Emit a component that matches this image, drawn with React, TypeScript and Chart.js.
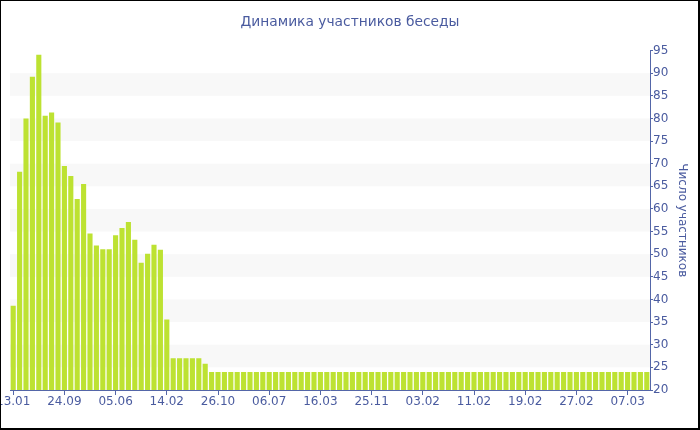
import { useEffect, useRef } from "react";
import { Chart, registerables } from "chart.js";

Chart.register(...registerables);

const TITLE = "Динамика участников беседы";
const Y_TITLE = "Число участников";

// one x label every LABEL_EVERY categories
const TICK_LABELS = [
  "13.01", "24.09", "05.06", "14.02", "26.10", "06.07", "16.03",
  "25.11", "03.02", "11.02", "19.02", "27.02", "07.03",
];
const LABEL_EVERY = 8;

const VALUES = [
  38.6, 68.2, 80.0, 89.2, 94.1, 80.6, 81.3, 79.1, 69.5, 67.3,
  62.2, 65.5, 54.6, 51.9, 51.1, 51.1, 54.2, 55.8, 57.1, 53.2,
  48.1, 50.1, 52.1, 51.0, 35.6, 27, 27, 27, 27, 27,
  25.8, 24, 24, 24, 24, 24, 24, 24, 24, 24,
  24, 24, 24, 24, 24, 24, 24, 24, 24, 24,
  24, 24, 24, 24, 24, 24, 24, 24, 24, 24,
  24, 24, 24, 24, 24, 24, 24, 24, 24, 24,
  24, 24, 24, 24, 24, 24, 24, 24, 24, 24,
  24, 24, 24, 24, 24, 24, 24, 24, 24, 24,
  24, 24, 24, 24, 24, 24, 24, 24, 24, 24,
];

const Y_MIN = 20;
const Y_MAX = 95;
const Y_STEP = 2.5;
const Y_LABEL_STEP = 5;
const BANDS = [
  [25, 30], [35, 40], [45, 50], [55, 60], [65, 70], [75, 80], [85, 90],
];

const TEXT = "#4a5b9f";
const AXIS = "#5466a8";
const BAR = "#bde232";
const BAND = "#f8f8f8";
const FONT = "'DejaVu Sans', Verdana, sans-serif";

const CATEGORIES = VALUES.map((_, i) =>
  i % LABEL_EVERY === 0 ? TICK_LABELS[i / LABEL_EVERY] ?? "" : ""
);

const bandPlugin = {
  id: "bands",
  beforeDraw(chart: any) {
    const { ctx, chartArea, scales } = chart;
    const y = scales.y;
    ctx.save();
    ctx.fillStyle = BAND;
    for (const [lo, hi] of BANDS) {
      const top = y.getPixelForValue(hi);
      const bot = y.getPixelForValue(lo);
      ctx.fillRect(chartArea.left, top, chartArea.right - chartArea.left, bot - top);
    }
    ctx.restore();
  },
};

const borderPlugin = {
  id: "frame",
  afterDraw(chart: any) {
    const { ctx, width, height } = chart;
    ctx.save();
    ctx.fillStyle = "#000";
    ctx.fillRect(0, 0, width, 1);
    ctx.fillRect(0, 0, 1, height);
    ctx.fillRect(width - 2, 0, 2, height);
    ctx.fillRect(0, height - 2, width, 2);
    ctx.restore();
  },
};

export default function App() {
  const ref = useRef<HTMLCanvasElement | null>(null);

  useEffect(() => {
    document.body.style.margin = "0";
    if (!ref.current) return;
    const chart = new Chart(ref.current, {
      type: "bar",
      data: {
        labels: CATEGORIES,
        datasets: [
          {
            data: VALUES,
            backgroundColor: BAR,
            borderWidth: 0,
            barPercentage: 0.8,
            categoryPercentage: 1,
          },
        ],
      },
      options: {
        responsive: false,
        animation: false,
        events: [],
        layout: { padding: { left: 0, right: 0, top: 0, bottom: 0 } },
        plugins: {
          legend: { display: false },
          tooltip: { enabled: false },
          title: {
            display: true,
            text: TITLE,
            color: TEXT,
            font: { family: FONT, size: 13.8, weight: "normal", lineHeight: 1.2 },
            padding: { top: 14, bottom: 20 },
          },
        },
        scales: {
          x: {
            offset: true,
            grid: {
              display: true,
              drawOnChartArea: false,
              drawTicks: true,
              tickLength: 5,
              color: AXIS,
              offset: false,
            },
            border: { display: true, color: AXIS, width: 1 },
            ticks: {
              autoSkip: false,
              maxRotation: 0,
              minRotation: 0,
              padding: 0,
              color: TEXT,
              font: { family: FONT, size: 12 },
              callback: (_v: any, i: number) =>
                i % LABEL_EVERY === 0 ? CATEGORIES[i] : null,
            },
            afterFit: (s: any) => {
              s.height = 40;
              s.paddingLeft = 10;
              s.paddingRight = 0;
            },
          },
          y: {
            position: "right",
            min: Y_MIN,
            max: Y_MAX,
            grid: {
              display: true,
              drawOnChartArea: false,
              drawTicks: true,
              tickLength: 3,
              color: AXIS,
            },
            border: { display: true, color: AXIS, width: 1 },
            ticks: {
              stepSize: Y_STEP,
              padding: 0,
              color: TEXT,
              font: { family: FONT, size: 12 },
              callback: (v: any) => (Number(v) % Y_LABEL_STEP === 0 ? String(v) : ""),
            },
            title: {
              display: true,
              text: Y_TITLE,
              color: TEXT,
              font: { family: FONT, size: 12, weight: "normal", lineHeight: 1.2 },
              padding: { top: 11, bottom: 0 },
            },
            afterFit: (s: any) => {
              s.width = 50;
              s.paddingTop = 0;
              s.paddingBottom = 0;
            },
          },
        },
      },
      plugins: [bandPlugin, borderPlugin],
    } as any);
    return () => chart.destroy();
  }, []);

  return (
    <div style={{ width: 700, height: 430 }}>
      <canvas ref={ref} width={700} height={430} style={{ display: "block" }} />
    </div>
  );
}
